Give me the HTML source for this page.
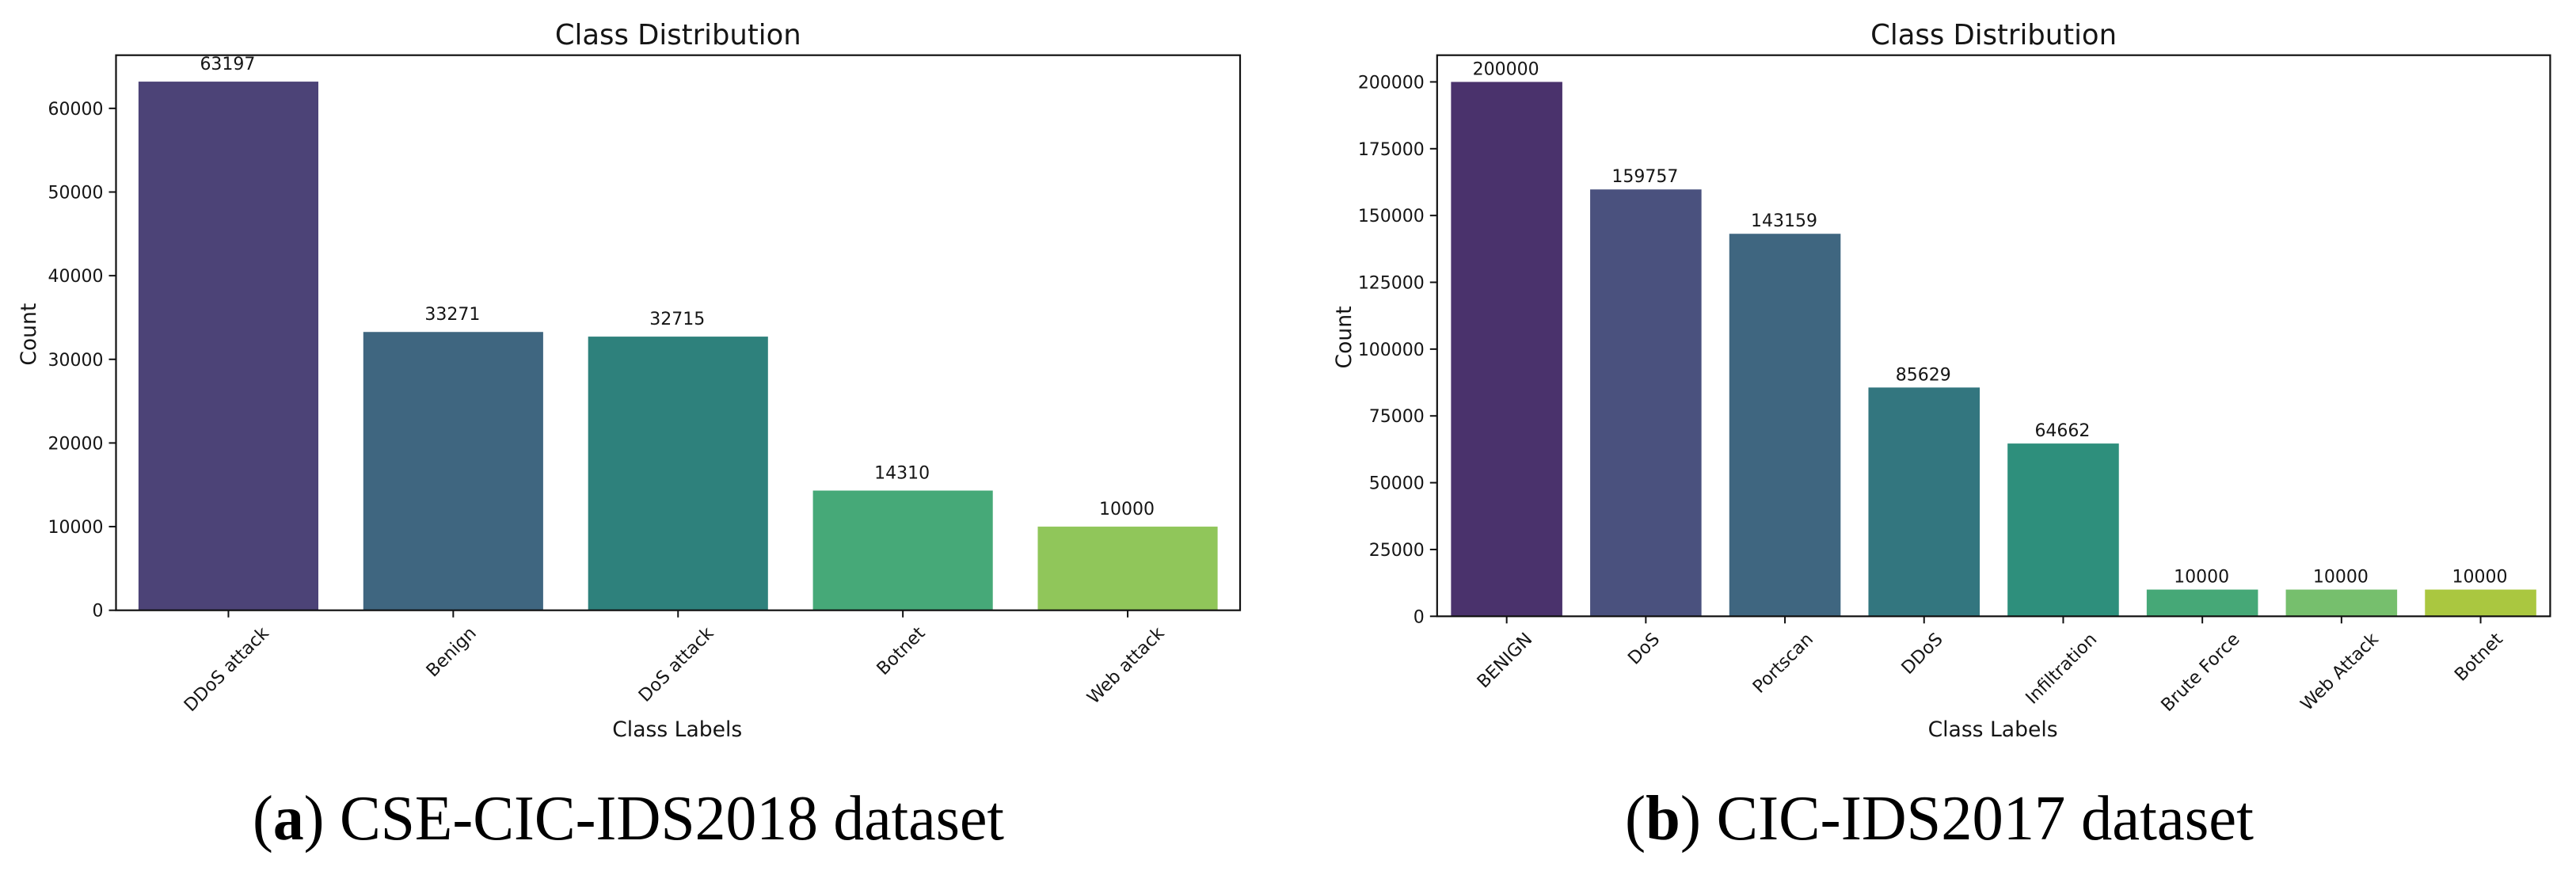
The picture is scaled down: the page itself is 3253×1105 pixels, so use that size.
<!DOCTYPE html>
<html lang="en">
<head>
<meta charset="utf-8">
<title>Class Distribution</title>
<style>
html,body{margin:0;padding:0;background:#fff;}
body{width:3253px;height:1105px;overflow:hidden;}
svg{display:block;}
.dv{font-family:"DejaVu Sans",sans-serif;fill:#151515;}
.cap{font-family:"Liberation Serif",serif;fill:#000;font-size:80px;}
</style>
</head>
<body>
<svg id="figure" xmlns="http://www.w3.org/2000/svg" width="3253" height="1105" viewBox="0 0 3253 1105">
  <g id="panel-a"></g>
  <g id="panel-b"></g>
  <text class="cap" x="319" y="1060" textLength="949" lengthAdjust="spacingAndGlyphs">(<tspan font-weight="bold">a</tspan>) CSE-CIC-IDS2018 dataset</text>
  <text class="cap" x="2052" y="1060" textLength="794" lengthAdjust="spacingAndGlyphs">(<tspan font-weight="bold">b</tspan>) CIC-IDS2017 dataset</text>
</svg>
<script>
// Panel (a) data
const categoriesA = ["DDoS attack", "Benign", "DoS attack", "Botnet", "Web attack"];
const countsA = [63197, 33271, 32715, 14310, 10000];
const tickValuesA = [0, 10000, 20000, 30000, 40000, 50000, 60000];
// Panel (b) data
const categoriesB = ["BENIGN", "DoS", "Portscan", "DDoS", "Infiltration", "Brute Force", "Web Attack", "Botnet"];
const countsB = [200000, 159757, 143159, 85629, 64662, 10000, 10000, 10000];
const tickValuesB = [0, 25000, 50000, 75000, 100000, 125000, 150000, 175000, 200000];
// Bar palettes
const paletteA = ["#4c4377", "#3f6680", "#2e817c", "#46a978", "#90c65a"];
const paletteB = ["#4a326c", "#4a517e", "#3f6680", "#33767f", "#2e8f7c", "#46a877", "#76bf6d", "#aac740"];

const SVGNS = "http://www.w3.org/2000/svg";

function make(parent, tag, attrs, content) {
  const el = document.createElementNS(SVGNS, tag);
  for (const k in attrs) el.setAttribute(k, attrs[k]);
  if (content !== undefined) el.textContent = content;
  parent.appendChild(el);
  return el;
}

function drawPanel(cfg) {
  const g = document.getElementById(cfg.id);
  const yMax = Math.max.apply(null, cfg.counts) * 1.05;
  const xScale = function (i) {
    return cfg.left + (i + 0.5) * (cfg.right - cfg.left) / cfg.categories.length;
  };
  const yScale = function (v) {
    return cfg.bottom - v / yMax * (cfg.bottom - cfg.top);
  };
  const bandWidth = (cfg.right - cfg.left) / cfg.categories.length * 0.8;

  cfg.counts.forEach(function (value, i) {
    const bar = make(g, "rect", {
      x: xScale(i) - bandWidth / 2,
      y: yScale(value),
      width: bandWidth,
      height: cfg.bottom - yScale(value),
      fill: cfg.palette[i]
    });
    
    

    const label = make(g, "text", {
      class: "dv",
      x: xScale(i) - 1,
      y: yScale(value) - cfg.valueGap,
      "text-anchor": "middle",
      "font-size": "22"
    }, String(value));
    
    
  });

  cfg.ticks.forEach(function (value) {
    const y = yScale(value);
    const tick = make(g, "line", {
      x1: cfg.left - 9, x2: cfg.left, y1: y, y2: y,
      stroke: "#111", "stroke-width": 2
    });
    
    

    const tickLabel = make(g, "text", {
      class: "dv",
      x: cfg.left - 16,
      y: y + 8,
      "text-anchor": "end",
      "font-size": "22"
    }, String(value));
    
    
  });

  cfg.categories.forEach(function (name, i) {
    const x = xScale(i);
    const tick = make(g, "line", {
      x1: x, x2: x, y1: cfg.bottom, y2: cfg.bottom + 9,
      stroke: "#111", "stroke-width": 2
    });
    
    

    const tickLabel = make(g, "text", {
      class: "dv",
      "text-anchor": "middle",
      "font-size": "22.4"
    }, name);
    
    
    const w = tickLabel.getComputedTextLength();
    const cy = cfg.bottom + 16 + (w + 24) * Math.SQRT1_2 / 2;
    tickLabel.setAttribute("transform", "translate(" + (x - 3) + "," + cy + ") rotate(-45) translate(0,8)");
  });

  const frame = make(g, "rect", {
    x: cfg.left, y: cfg.top,
    width: cfg.right - cfg.left, height: cfg.bottom - cfg.top,
    fill: "none", stroke: "#111", "stroke-width": 2.2
  });
  
  

  const centerX = (cfg.left + cfg.right) / 2;
  const title = make(g, "text", {
    class: "dv", x: centerX, y: 56, "text-anchor": "middle", "font-size": "35.4"
  }, "Class Distribution");
  
  

  const xTitle = make(g, "text", {
    class: "dv", x: centerX - 1, y: 930, "text-anchor": "middle", "font-size": "26.6"
  }, "Class Labels");
  
  

  const yCenter = (cfg.top + cfg.bottom) / 2;
  const yTitle = make(g, "text", {
    class: "dv", "text-anchor": "middle", "font-size": "26.6",
    transform: "translate(" + cfg.countX + "," + (yCenter + 2) + ") rotate(-90)"
  }, "Count");
  
  
}

drawPanel({
  id: "panel-a",
  categories: categoriesA, counts: countsA, ticks: tickValuesA, palette: paletteA,
  left: 146.5, right: 1566, top: 69.7, bottom: 770.7, valueGap: 15, countX: 45
});
drawPanel({
  id: "panel-b",
  categories: categoriesB, counts: countsB, ticks: tickValuesB, palette: paletteB,
  left: 1814.8, right: 3220.4, top: 69.7, bottom: 778.3, valueGap: 9, countX: 1706
});
</script>
</body>
</html>
